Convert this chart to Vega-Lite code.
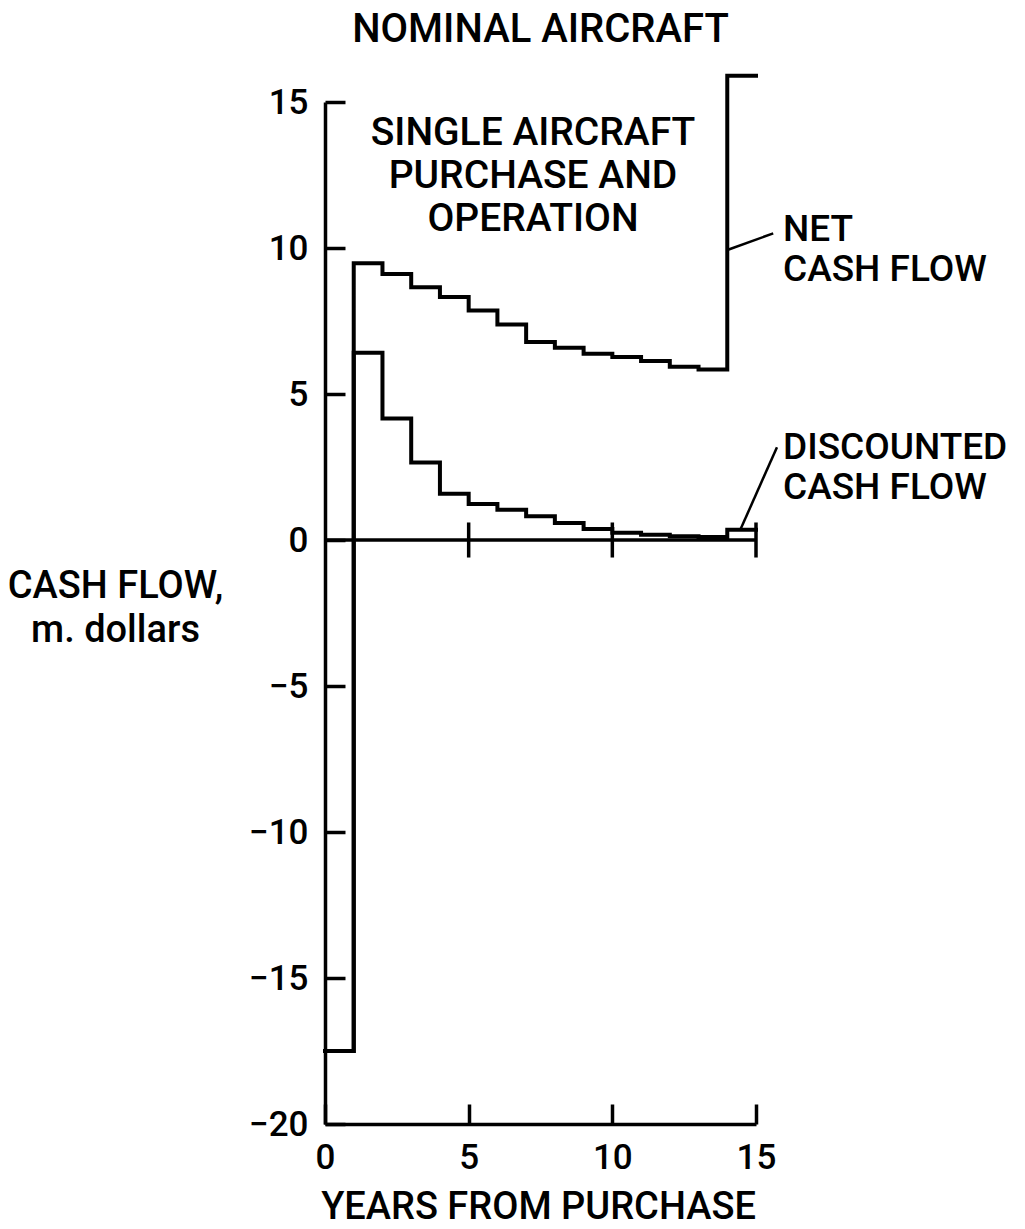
{
  "$schema": "https://vega.github.io/schema/vega-lite/v6.json",
  "width": 431,
  "height": 1022,
  "autosize": {"type": "none"},
  "padding": {"left": 325, "top": 102, "right": 269, "bottom": 105},
  "background": "white",
  "config": {
    "view": {"stroke": null},
    "font": "Roboto",
    "axis": {
      "domainColor": "black",
      "domainWidth": 3.5,
      "tickColor": "black",
      "tickWidth": 3.5,
      "tickSize": -20,
      "grid": false,
      "labelFont": "Roboto",
      "labelFontSize": 35,
      "labelFontWeight": 500,
      "labelColor": "black",
      "titleFont": "Roboto",
      "titleFontSize": 38,
      "titleFontWeight": 500,
      "titleColor": "black"
    }
  },
  "title": {
    "text": "NOMINAL AIRCRAFT",
    "fontSize": 40,
    "fontWeight": 500,
    "font": "Roboto",
    "color": "black",
    "anchor": "middle",
    "offset": 18
  },
  "datasets": {
    "flows": [
      {"series": "net", "year": 0, "value": -17.5},
      {"series": "net", "year": 1, "value": 9.48},
      {"series": "net", "year": 2, "value": 9.11},
      {"series": "net", "year": 3, "value": 8.66},
      {"series": "net", "year": 4, "value": 8.32},
      {"series": "net", "year": 5, "value": 7.86},
      {"series": "net", "year": 6, "value": 7.38},
      {"series": "net", "year": 7, "value": 6.78},
      {"series": "net", "year": 8, "value": 6.58},
      {"series": "net", "year": 9, "value": 6.38},
      {"series": "net", "year": 10, "value": 6.27},
      {"series": "net", "year": 11, "value": 6.13},
      {"series": "net", "year": 12, "value": 5.93},
      {"series": "net", "year": 13, "value": 5.84},
      {"series": "net", "year": 14, "value": 15.9},
      {"series": "net", "year": 15, "value": 15.9},
      {"series": "discounted", "year": 0, "value": -17.5},
      {"series": "discounted", "year": 1, "value": 6.41},
      {"series": "discounted", "year": 2, "value": 4.16},
      {"series": "discounted", "year": 3, "value": 2.65},
      {"series": "discounted", "year": 4, "value": 1.58},
      {"series": "discounted", "year": 5, "value": 1.23},
      {"series": "discounted", "year": 6, "value": 1.04},
      {"series": "discounted", "year": 7, "value": 0.81},
      {"series": "discounted", "year": 8, "value": 0.58},
      {"series": "discounted", "year": 9, "value": 0.38},
      {"series": "discounted", "year": 10, "value": 0.25},
      {"series": "discounted", "year": 11, "value": 0.18},
      {"series": "discounted", "year": 12, "value": 0.13},
      {"series": "discounted", "year": 13, "value": 0.1},
      {"series": "discounted", "year": 14, "value": 0.35},
      {"series": "discounted", "year": 15, "value": 0.35}
    ],
    "zeroLine": [{"from": 0, "to": 15, "value": 0}],
    "zeroTicks": [{"year": 5}, {"year": 10}, {"year": 15}],
    "leaders": [
      {"series": "net", "x1": 14.05, "y1": 9.95, "x2": 15.6, "y2": 10.5},
      {"series": "discounted", "x1": 14.45, "y1": 0.34, "x2": 15.73, "y2": 3.18}
    ],
    "boxLabel": [
      {"label": "SINGLE AIRCRAFT\nPURCHASE AND\nOPERATION", "year": 7.24, "value": 13.94}
    ],
    "seriesLabels": [
      {"label": "NET\nCASH FLOW", "year": 15.94, "value": 10.6},
      {"label": "DISCOUNTED\nCASH FLOW", "year": 15.94, "value": 3.15}
    ]
  },
  "layer": [
    {
      "data": {"name": "flows"},
      "mark": {"type": "line", "interpolate": "step-after", "color": "black", "strokeWidth": 4, "strokeJoin": "miter", "strokeCap": "square"},
      "encoding": {
        "x": {
          "field": "year",
          "type": "quantitative",
          "scale": {"domain": [0, 15], "nice": false, "zero": false},
          "axis": {
            "values": [0, 5, 10, 15],
            "labelPadding": 36,
            "labelFlush": false,
            "title": "YEARS FROM PURCHASE",
            "titleX": 213,
            "titleY": 83,
            "titleBaseline": "middle",
            "titleAnchor": "middle"
          }
        },
        "y": {
          "field": "value",
          "type": "quantitative",
          "scale": {"domain": [-20, 15], "nice": false, "zero": false},
          "axis": {
            "values": [-20, -15, -10, -5, 0, 5, 10, 15],
            "labelPadding": 37,
            "labelFlush": false,
            "title": ["CASH FLOW,", "m. dollars"],
            "titleAngle": 0,
            "titleX": -210,
            "titleY": 484,
            "titleAlign": "center",
            "titleBaseline": "middle",
            "titleLineHeight": 44
          }
        },
        "detail": {"field": "series"}
      }
    },
    {
      "data": {"name": "zeroLine"},
      "mark": {"type": "rule", "color": "black", "strokeWidth": 3.5},
      "encoding": {
        "x": {"field": "from", "type": "quantitative"},
        "x2": {"field": "to"},
        "y": {"field": "value", "type": "quantitative"}
      }
    },
    {
      "data": {"name": "zeroTicks"},
      "mark": {"type": "rule", "color": "black", "strokeWidth": 3.5},
      "encoding": {
        "x": {"field": "year", "type": "quantitative"},
        "y": {"datum": -0.6},
        "y2": {"datum": 0.6}
      }
    },
    {
      "data": {"name": "leaders"},
      "mark": {"type": "rule", "color": "black", "strokeWidth": 2.5},
      "encoding": {
        "x": {"field": "x1", "type": "quantitative"},
        "y": {"field": "y1", "type": "quantitative"},
        "x2": {"field": "x2"},
        "y2": {"field": "y2"}
      }
    },
    {
      "data": {"name": "boxLabel"},
      "mark": {"type": "text", "align": "center", "baseline": "middle", "fontSize": 39, "fontWeight": 500, "font": "Roboto", "color": "black", "lineBreak": "\n", "lineHeight": 43},
      "encoding": {
        "x": {"field": "year", "type": "quantitative"},
        "y": {"field": "value", "type": "quantitative"},
        "text": {"field": "label"}
      }
    },
    {
      "data": {"name": "seriesLabels"},
      "mark": {"type": "text", "align": "left", "baseline": "middle", "fontSize": 37, "fontWeight": 500, "font": "Roboto", "color": "black", "lineBreak": "\n", "lineHeight": 40},
      "encoding": {
        "x": {"field": "year", "type": "quantitative"},
        "y": {"field": "value", "type": "quantitative"},
        "text": {"field": "label"}
      }
    }
  ]
}
